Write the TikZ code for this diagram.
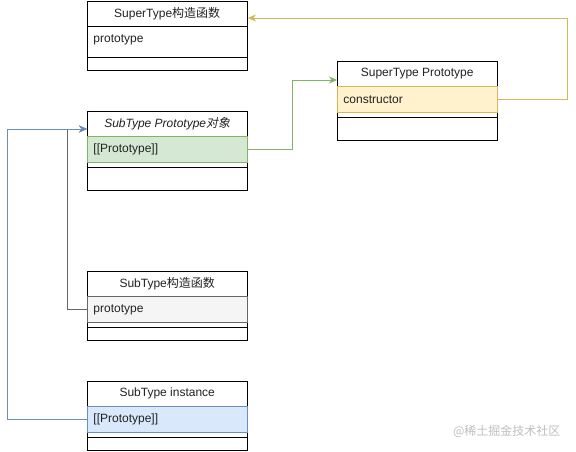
\documentclass[tikz,border=0pt]{standalone}
\usepackage{fontspec}
\setmainfont{Liberation Sans}
\newfontfamily\cjk{Noto Sans CJK SC}
\newfontfamily\cjki[FakeSlant=0.2]{Noto Sans CJK SC}
\usetikzlibrary{arrows.meta}
\definecolor{gfill}{HTML}{D5E8D4}\definecolor{gline}{HTML}{82B366}
\definecolor{yfill}{HTML}{FFF2CC}\definecolor{yline}{HTML}{D6B656}
\definecolor{sfill}{HTML}{F5F5F5}\definecolor{sline}{HTML}{666666}
\definecolor{bfill}{HTML}{DAE8FC}\definecolor{bline}{HTML}{6C8EBF}
\definecolor{txt}{HTML}{222222}
\begin{document}
\begin{tikzpicture}[x=1pt,y=-1pt,
  every node/.style={font=\fontsize{12}{14}\selectfont, text=txt},
  outer/.style={draw=black, line width=0.9pt, minimum width=160pt, anchor=north west, inner sep=0pt, fill=white},
  hdr/.style={minimum width=160pt, minimum height=25.5pt, anchor=north west, inner sep=0pt},
  rowbox/.style={minimum width=160pt, minimum height=26pt, anchor=north west, inner sep=6pt, text width=148pt, align=left, line width=0.9pt},
  sepline/.style={draw=black, line width=0.9pt},
  conn/.style={line width=0.9pt, -{Stealth[length=8pt,width=7pt,inset=2.5pt]}}
]
\useasboundingbox[fill=white] (0,0) rectangle (576,451);

% Box 1: SuperType constructor
\node[outer, minimum height=69.5pt] (o1) at (87,0.5) {};
\node[hdr] (h1) at (o1.north west) {SuperType\cjk{构造函数}};
\draw[sepline] (h1.south west) -- (h1.south east);
\node[rowbox] (r1) at (h1.south west) {prototype};
\draw[sepline] ([yshift=-4pt]r1.south west) -- ([yshift=-4pt]r1.south east);

% Box 2: SubType Prototype object
\node[outer, minimum height=79.5pt] (o2) at (87,110.5) {};
\node[hdr] (h2) at (o2.north west) {\itshape SubType Prototype\cjki{对象}};
\node[rowbox, draw=gline, fill=gfill] (r2) at (h2.south west) {[[Prototype]]};
\draw[sepline] ([yshift=-4pt]r2.south west) -- ([yshift=-4pt]r2.south east);

% Box 3: SuperType Prototype
\node[outer, minimum height=79.5pt] (o3) at (337,60.5) {};
\node[hdr] (h3) at (o3.north west) {SuperType Prototype};
\node[rowbox, draw=yline, fill=yfill] (r3) at (h3.south west) {constructor};
\draw[sepline] ([yshift=-4pt]r3.south west) -- ([yshift=-4pt]r3.south east);

% Box 4: SubType constructor
\node[outer, minimum height=69.5pt] (o4) at (87,270.5) {};
\node[hdr] (h4) at (o4.north west) {SubType\cjk{构造函数}};
\node[rowbox, draw=sline, fill=sfill] (r4) at (h4.south west) {prototype};
\draw[sepline] ([yshift=-4pt]r4.south west) -- ([yshift=-4pt]r4.south east);

% Box 5: SubType instance
\node[outer, minimum height=69.5pt] (o5) at (87,380.5) {};
\node[hdr] (h5) at (o5.north west) {SubType instance};
\node[rowbox, draw=bline, fill=bfill] (r5) at (h5.south west) {[[Prototype]]};
\draw[sepline] ([yshift=-4pt]r5.south west) -- ([yshift=-4pt]r5.south east);

% Connectors
\draw[conn, draw=yline] (r3.east) -- ++(70,0) |- ([yshift=-17.5pt]o1.north east);
\draw[conn, draw=gline] (r2.east) -- ++(45,0) |- ([yshift=-19.5pt]o3.north west);
\draw[conn, draw=sline] (r4.west) -- ++(-20,0) |- ([yshift=-18.5pt]o2.north west);
\draw[conn, draw=bline] (r5.west) -- ++(-80,0) |- ([yshift=-18.5pt]o2.north west);

% Watermark
\node[text=black!25, font=\cjk\fontsize{12}{14}\selectfont, anchor=east] (wm) at (564,431) {@稀土掘金技术社区};
\end{tikzpicture}
\end{document}
